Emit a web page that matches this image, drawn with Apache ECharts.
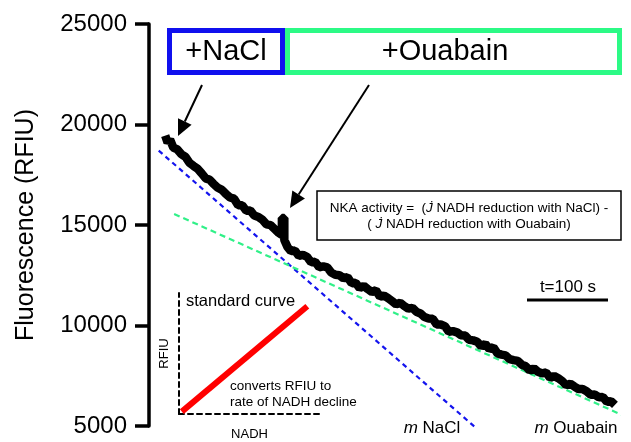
<!DOCTYPE html>
<html><head><meta charset="utf-8">
<script src="https://cdn.jsdelivr.net/npm/echarts@6/dist/echarts.min.js"></script>
<style>html,body{margin:0;padding:0;background:#fff}#c{width:631px;height:442px}</style>
</head><body><div id="c"></div>
<script>
// Time (s) of each fluorescence reading
const timeSec = [20,23,26,30,35,40,45,50,55,60,65,70,75,80,85,90,95,100,105,110,115,120,125,130,135,140,145,150,155,160,164,164,167,167,171,175,180,185,190,195,200,205,210,215,220,225,230,235,240,245,250,255,260,265,270,275,280,285,290,295,300,305,310,315,320,325,330,335,340,345,350,355,360,365,370,375,380,385,390,395,400,405,410,415,420,425,430,435,440,445,450,455,460,465,470,475,480,485,490,495,500,505,510,515,520,525,530,535,540,545,550,555,560,565,570,575];
// Fluorescence (RFIU)
const fluorescence = [19450,19100,19250,18850,18760,18520,18390,18090,17940,17800,17570,17320,17250,17030,16850,16750,16540,16370,16310,15980,15980,15710,15720,15470,15400,15260,15030,14990,14800,14610,14500,15350,15350,14250,13900,13700,13730,13460,13510,13420,13140,13170,12900,12940,12890,12630,12520,12500,12350,12410,12100,12130,11860,11970,11810,11670,11750,11430,11490,11360,11210,11050,11130,10970,10840,10880,10680,10600,10420,10350,10340,10050,10050,9970,9690,9720,9660,9520,9500,9290,9260,9190,8960,9080,8830,8920,8610,8550,8510,8330,8280,8240,8050,7970,7750,7870,7700,7620,7660,7390,7490,7380,7230,7020,7100,6960,6840,6840,6730,6560,6570,6430,6450,6200,6240,6050];
// Fitted slopes
const naclFitTime = [12, 405];
const naclFitValue = [18700, 4850];
const ouabainFitTime = [31, 592];
const ouabainFitValue = [15550, 5400];
// Y axis ticks
const yTicks = [5000, 10000, 15000, 20000, 25000];
// Standard curve inset (arbitrary units)
const stdNADH = [0.02, 0.91];
const stdRFIU = [0.02, 0.89];

const FONT = 'Liberation Sans, Arial, sans-serif';
const zip = (a, b) => a.map((v, i) => [v, b[i]]);

const chart = echarts.init(document.getElementById('c'), null, {renderer: 'canvas'});
const arrow = (x1, y1, x2, y2) => {
  const dx = x2 - x1, dy = y2 - y1, L = Math.hypot(dx, dy);
  const ux = dx / L, uy = dy / L, hl = 16, hw = 7.5;
  const bx = x2 - ux * hl, by = y2 - uy * hl;
  return [
    {type: 'line', shape: {x1, y1, x2: bx, y2: by}, style: {stroke: '#000', lineWidth: 2}},
    {type: 'polygon', shape: {points: [[x2, y2], [bx - uy * hw, by + ux * hw], [bx + uy * hw, by - ux * hw]]}, style: {fill: '#000'}}
  ];
};

chart.setOption({
  animation: false,
  backgroundColor: '#fff',
  grid: [
    {left: 149, right: 12, top: 24, bottom: 16},
    {left: 179, top: 293, width: 141, height: 128}
  ],
  xAxis: [
    {type: 'value', gridIndex: 0, min: 0, max: 580, show: false},
    {type: 'value', gridIndex: 1, min: 0, max: 1,
     axisLine: {show: true, lineStyle: {color: '#000', width: 2, type: [5, 4]}},
     axisTick: {show: false}, axisLabel: {show: false}, splitLine: {show: false},
     name: 'NADH', nameLocation: 'middle', nameGap: 14,
     nameTextStyle: {color: '#000', fontSize: 13, fontFamily: FONT}}
  ],
  yAxis: [
    {type: 'value', gridIndex: 0, min: yTicks[0], max: yTicks[yTicks.length - 1], interval: 5000,
     axisLine: {show: true, lineStyle: {color: '#000', width: 3.5}},
     axisTick: {show: true, length: 14, lineStyle: {color: '#000', width: 3.5}},
     axisLabel: {color: '#000', fontSize: 24, fontFamily: FONT, margin: 22, formatter: v => String(v)},
     splitLine: {show: false},
     name: 'Fluorescence (RFIU)', nameLocation: 'middle', nameGap: 110, nameRotate: 90,
     nameTextStyle: {color: '#000', fontSize: 25, fontFamily: FONT}},
    {type: 'value', gridIndex: 1, min: 0, max: 1,
     axisLine: {show: true, lineStyle: {color: '#000', width: 2, type: [5, 4]}},
     axisTick: {show: false}, axisLabel: {show: false}, splitLine: {show: false},
     name: 'RFIU', nameLocation: 'middle', nameGap: 8, nameRotate: 90,
     nameTextStyle: {color: '#000', fontSize: 13, fontFamily: FONT}}
  ],
  series: [
    {type: 'line', xAxisIndex: 0, yAxisIndex: 0, data: zip(naclFitTime, naclFitValue), showSymbol: false, clip: false,
     lineStyle: {color: '#1414ee', width: 2.2, type: [5, 4]}, z: 3},
    {type: 'line', xAxisIndex: 0, yAxisIndex: 0, data: zip(ouabainFitTime, ouabainFitValue), showSymbol: false, clip: false,
     lineStyle: {color: '#30f088', width: 2.2, type: [6, 4]}, z: 3},
    {type: 'line', xAxisIndex: 0, yAxisIndex: 0, data: zip(timeSec, fluorescence), showSymbol: false,
     lineStyle: {color: '#000', width: 8.5, join: 'bevel'}, z: 4},
    {type: 'line', xAxisIndex: 1, yAxisIndex: 1, data: zip(stdNADH, stdRFIU), showSymbol: false, clip: false,
     lineStyle: {color: '#ff0000', width: 6}, z: 4}
  ],
  graphic: [
    {type: 'rect', shape: {x: 169.5, y: 30.5, width: 113, height: 42}, style: {fill: null, stroke: '#1010ee', lineWidth: 5}, z: 10},
    {type: 'rect', shape: {x: 287.5, y: 30.5, width: 332, height: 42}, style: {fill: null, stroke: '#2cfa86', lineWidth: 5}, z: 10},
    {type: 'text', x: 226, y: 52, style: {text: '+NaCl', fontSize: 29, fontFamily: FONT, fill: '#000', align: 'center', verticalAlign: 'middle'}, z: 10},
    {type: 'text', x: 445, y: 52, style: {text: '+Ouabain', fontSize: 29, fontFamily: FONT, fill: '#000', align: 'center', verticalAlign: 'middle'}, z: 10},
    ...arrow(202, 85, 178, 136),
    ...arrow(369, 85, 290, 208),
    {type: 'rect', shape: {x: 317, y: 191, width: 304, height: 49}, style: {fill: '#fff', stroke: '#000', lineWidth: 1.5}, z: 10},
    {type: 'text', x: 469, y: 216, z: 11, style: {
      text: 'NKA activity =  ({j|J̇} NADH reduction with NaCl) -\n( {j|J̇} NADH reduction with Ouabain)',
      fontSize: 13.5, fontFamily: FONT, fill: '#000', align: 'center', verticalAlign: 'middle', lineHeight: 16,
      rich: {j: {fontStyle: 'italic', fontSize: 13.5, fontFamily: FONT, fill: '#000', lineHeight: 16}}}},
    {type: 'line', shape: {x1: 527, y1: 300, x2: 608, y2: 300}, style: {stroke: '#000', lineWidth: 3}, z: 10},
    {type: 'text', x: 568, y: 287, style: {text: 't=100 s', fontSize: 17, fontFamily: FONT, fill: '#000', align: 'center', verticalAlign: 'middle'}, z: 10},
    {type: 'text', x: 186, y: 301, style: {text: 'standard curve', fontSize: 16.5, fontFamily: FONT, fill: '#000', align: 'left', verticalAlign: 'middle'}, z: 10},
    {type: 'text', x: 230, y: 394, style: {text: 'converts RFIU to\nrate of NADH decline', fontSize: 13.5, fontFamily: FONT, fill: '#000', align: 'left', verticalAlign: 'middle', lineHeight: 16}, z: 10},
    {type: 'text', x: 432, y: 428, style: {text: '{m|m} NaCl', fontSize: 17, fontFamily: FONT, fill: '#000', align: 'center', verticalAlign: 'middle',
      rich: {m: {fontStyle: 'italic', fontSize: 17, fontFamily: FONT, fill: '#000'}}}, z: 10},
    {type: 'text', x: 576, y: 428, style: {text: '{m|m} Ouabain', fontSize: 17, fontFamily: FONT, fill: '#000', align: 'center', verticalAlign: 'middle',
      rich: {m: {fontStyle: 'italic', fontSize: 17, fontFamily: FONT, fill: '#000'}}}, z: 10}
  ]
});
</script></body></html>
